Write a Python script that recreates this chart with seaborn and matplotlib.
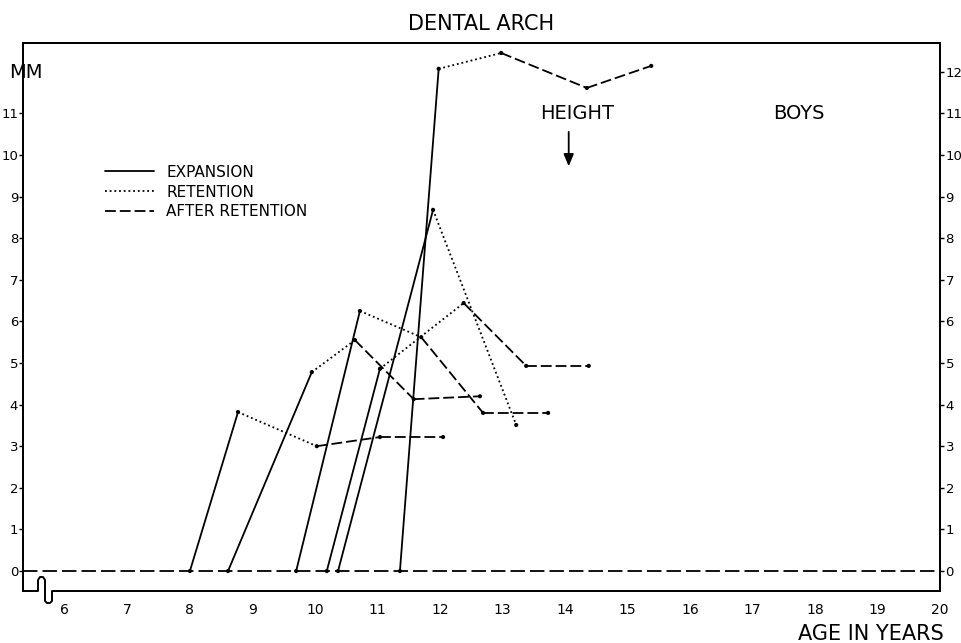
import numpy as np
import pandas as pd
import seaborn as sns
import matplotlib.pyplot as plt

# ages (years) and arch change (mm), one list pair per boy
boy1_age = [8.00, 8.77, 10.03, 11.04, 12.05]
boy1_mm = [0.0, 3.82, 3.00, 3.22, 3.22]
boy2_age = [8.61, 9.95, 10.64, 11.58, 12.64]
boy2_mm = [0.0, 4.78, 5.55, 4.13, 4.20]
boy3_age = [9.70, 10.72, 11.70, 12.69, 13.73]
boy3_mm = [0.0, 6.25, 5.62, 3.80, 3.80]
boy4_age = [10.19, 11.04, 12.38, 13.38, 14.38]
boy4_mm = [0.0, 4.86, 6.44, 4.93, 4.93]
boy5_age = [10.37, 11.89, 13.22]
boy5_mm = [0.0, 8.68, 3.51]
boy6_age = [11.36, 11.98, 12.98, 14.35, 15.38]
boy6_mm = [0.0, 12.07, 12.45, 11.61, 12.14]

# phase of each segment between two successive points
phases = ["EXPANSION", "RETENTION", "AFTER RETENTION", "AFTER RETENTION"]
phase_order = ["EXPANSION", "RETENTION", "AFTER RETENTION"]

x_ticks = list(range(6, 21))
left_ticks = list(range(0, 12))
right_ticks = list(range(0, 13))

cases = [(boy1_age, boy1_mm), (boy2_age, boy2_mm), (boy3_age, boy3_mm),
         (boy4_age, boy4_mm), (boy5_age, boy5_mm), (boy6_age, boy6_mm)]

# long form: every segment is its own unit so each can get its own dash style
rows = []
pts = []
for i, (ages, mms) in enumerate(cases):
    for k in range(len(ages) - 1):
        for j in (k, k + 1):
            rows.append({"seg": f"{i}-{k}", "phase": phases[k], "age": ages[j], "mm": mms[j]})
    for a, m in zip(ages, mms):
        pts.append({"age": a, "mm": m})
seg_df = pd.DataFrame(rows)
pt_df = pd.DataFrame(pts)

sns.set_theme(style="white")
plt.rcParams["font.family"] = ["DejaVu Sans"]
plt.rcParams["text.color"] = "black"
plt.rcParams["axes.labelcolor"] = "black"
plt.rcParams["xtick.color"] = "black"
plt.rcParams["ytick.color"] = "black"

fig = plt.figure(figsize=(9.61, 6.43), dpi=100)
ax = fig.add_axes([23 / 961, (643 - 591) / 643, 917 / 961, 548 / 643])

sns.lineplot(data=seg_df, x="age", y="mm", units="seg", estimator=None,
             style="phase", style_order=phase_order,
             dashes={"EXPANSION": "", "RETENTION": (1, 1.6), "AFTER RETENTION": (6, 2.2)},
             color="black", linewidth=1.3, sort=False, ax=ax)
sns.scatterplot(data=pt_df, x="age", y="mm", color="black", s=9,
                edgecolor="none", legend=False, ax=ax, zorder=5)

ax.axhline(0, color="black", lw=1.3, ls=(0, (8, 2.8)), zorder=1)

ax.set_xlim(5.33, 20)
ax.set_ylim(-0.48, 12.69)
ax.set_xlabel("")
ax.set_ylabel("")

ax.set_xticks(x_ticks)
ax.set_xticklabels([str(t) for t in x_ticks])
ax.set_yticks(left_ticks)
ax.set_yticklabels([str(t) for t in left_ticks])
ax.tick_params(axis="x", direction="in", length=3, width=1, pad=9,
               labelsize=10, colors="black")
ax.tick_params(axis="y", direction="out", length=3, width=1, pad=0.5,
               labelsize=9.5, colors="black", left=True)

ax2 = ax.twinx()
ax2.set_ylim(ax.get_ylim())
ax2.set_yticks(right_ticks)
ax2.set_yticklabels([str(t) for t in right_ticks])
ax2.tick_params(axis="y", direction="out", length=3, width=1, pad=1,
                labelsize=9.5, colors="black", right=True)
ax2.grid(False)

for a in (ax, ax2):
    for s in a.spines.values():
        s.set_color("black")
        s.set_linewidth(1.4)
    a.spines["bottom"].set_visible(False)

# bottom axis line with the break symbol near the origin
bx = np.array([23, 38, 38, 40, 43, 45, 45, 47, 50, 52, 52, 940])
by = np.array([591, 591, 580, 577, 577, 580, 601, 603, 603, 601, 591, 591])
ax.plot((bx - 23) / 917, (591 - by) / 548, color="black", lw=1.4,
        transform=ax.transAxes, clip_on=False)

sns.move_legend(ax, "upper left", bbox_to_anchor=(0.081, 0.792), frameon=False,
                title=None, fontsize=11, handlelength=3.2, handletextpad=0.8,
                labelspacing=0.32, borderpad=0)

ax.set_title("DENTAL ARCH", fontsize=15, pad=9)
ax.text(14.19, 10.99, "HEIGHT", fontsize=14, ha="center", va="center")
ax.annotate("", xy=(14.06, 9.66), xytext=(14.06, 10.62),
            arrowprops=dict(arrowstyle="-|>,head_width=0.25,head_length=0.6",
                            color="black", lw=1.3))
ax.text(17.74, 10.99, "BOYS", fontsize=14, ha="center", va="center")
fig.text(43 / 961, 1 - 72 / 643, "MM", fontsize=14, ha="right", va="center")
fig.text(944 / 961, 1 - 634 / 643, "AGE IN YEARS", fontsize=15, ha="right", va="center")

fig.savefig("out.png", dpi=100)
